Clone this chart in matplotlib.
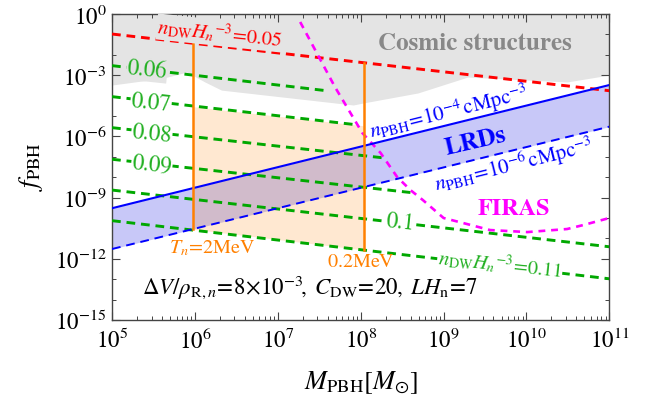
import numpy as np
import matplotlib
matplotlib.use("Agg")
import matplotlib.pyplot as plt
from matplotlib.ticker import NullFormatter, LogFormatterSciNotation

plt.rcParams['font.family'] = 'STIXGeneral'
plt.rcParams['mathtext.fontset'] = 'stix'

# n_DW H_n^-3 contours (log10 values), start at M = 1e5
dw_levels = ['0.05', '0.06', '0.07', '0.08', '0.09', '0.1', '0.11']
dw_logf_start = [-0.98, -2.53, -4.05, -5.57, -7.12, -8.63, -10.13]
dw_logM_end = [11.0, 7.61, 7.95, 8.27, 8.60, 11.0, 11.0]
dw_logf_end = [-3.76, -3.77, -5.43, -7.05, -8.75, -11.41, -12.98]

# LRD band: n_PBH = 1e-4 and 1e-6 cMpc^-3
lrd_M = [1e5, 1e11]
lrd_upper = [10**-9.52, 10**-3.48]
lrd_lower = [10**-11.52, 10**-5.52]

# T_n = 2 MeV and 0.2 MeV vertical lines and allowed region
tn_M = [10**5.978, 10**8.042]
tn_top = [10**-1.42, 10**-2.41]
tn_bottom = [10**-10.55, 10**-11.57]
tn_fill_top = [10**-4.54, 10**-5.48]

# FIRAS bound
firas_logM = [7.27, 7.69, 8.02, 8.24, 8.44, 8.60, 8.75, 9.00, 9.24, 9.56, 10.01, 10.49, 10.69, 11.0]
firas_logf = [-0.39, -3.58, -5.83, -6.81, -7.99, -8.63, -9.12, -10.0, -10.25, -10.59, -10.69, -10.54, -10.34, -10.0]

# cosmic structures exclusion (lower boundary)
cs_logM = [5.0, 5.31, 5.59, 5.86, 5.90, 6.12, 6.32, 7.91, 8.03, 8.69, 9.29, 10.49, 11.0]
cs_logf = [-3.48, -3.31, -3.17, -2.89, -2.84, -3.33, -3.73, -4.46, -4.36, -3.87, -3.09, -3.33, -2.99]

red = '#ff0000'
green = '#00a800'
green_txt = '#22b022'
blue = '#0000ff'
magenta = '#ff00ff'
orange = '#ff8000'
grey = '#e4e4e4'

fig = plt.figure(figsize=(6.57, 4.01), dpi=100)
ax = fig.add_axes([0.1705, 0.202, 0.757, 0.763])
ax.set_xscale('log')
ax.set_yscale('log')
ax.set_xlim(1e5, 1e11)
ax.set_ylim(1e-15, 1e0)

# cosmic structures
cs_M = 10.0**np.array(cs_logM)
ax.fill_between(cs_M, 10.0**np.array(cs_logf), 1.0, color=grey, lw=0, zorder=1)

# LRD band
ax.fill_between(lrd_M, lrd_lower, lrd_upper, color='#c8c8f8', lw=0, zorder=2)
ax.plot(lrd_M, lrd_upper, color=blue, lw=1.5, zorder=5)
ax.plot(lrd_M, lrd_lower, color=blue, lw=1.4, dashes=(4.5, 3), zorder=5)

# T_n region
ax.fill_between(tn_M, tn_bottom, tn_fill_top, color=orange, alpha=0.18, lw=0, zorder=3)
for m, lo, hi in zip(tn_M, tn_bottom, tn_top):
    ax.plot([m, m], [lo, hi], color=orange, lw=1.8, zorder=6)

# n_DW contours
for i in range(len(dw_levels)):
    c = red if i == 0 else green
    ax.plot([1e5, 10**dw_logM_end[i]], [10**dw_logf_start[i], 10**dw_logf_end[i]],
            color=c, lw=2.1, dashes=(3, 2), zorder=4)

# FIRAS
ax.plot(10.0**np.array(firas_logM), 10.0**np.array(firas_logf), color=magenta,
        lw=1.9, dashes=(2.6, 2.2), zorder=4)

# labels on contours
def lab(x, y, s, color, bg, rot, size=15):
    ax.text(10**x, 10**y, s, color=color, fontsize=size, rotation=rot,
            ha='center', va='center', rotation_mode='anchor', zorder=7,
            bbox=dict(facecolor=bg, edgecolor='none', pad=0.5) if bg else None)

lab(6.30, -0.93, r'$n_{\rm DW}H_n{}^{-3}\!=\!0.05$', red, grey, -6, 14.5)
lab(5.42, -2.75, '0.06', green_txt, grey, -6, 16.5)
lab(5.47, -4.36, '0.07', green_txt, 'white', -6, 16.5)
lab(5.48, -5.88, '0.08', green_txt, 'white', -6, 16.5)
lab(5.48, -7.40, '0.09', green_txt, 'white', -6, 16.5)
lab(8.48, -10.25, '0.1', green_txt, 'white', -6, 16.5)
lab(9.68, -12.25, r'$n_{\rm DW}H_n{}^{-3}\!=\!0.11$', green_txt, 'white', -6, 14.5)

ax.text(10**9.38, 10**-1.47, 'Cosmic structures', color='#888888', fontsize=18,
        fontweight='bold', ha='center', va='center', zorder=7)
ax.text(10**9.39, 10**-6.27, 'LRDs', color=blue, fontsize=18, fontweight='bold',
        ha='center', va='center', rotation=13, rotation_mode='anchor', zorder=7)
ax.text(10**9.07, 10**-4.8, r'$n_{\rm PBH}\!=\!10^{-4}\,{\rm cMpc}^{-3}$', color=blue,
        fontsize=15, ha='center', va='center', rotation=14, rotation_mode='anchor', zorder=7)
ax.text(10**9.85, 10**-7.4, r'$n_{\rm PBH}\!=\!10^{-6}\,{\rm cMpc}^{-3}$', color=blue,
        fontsize=15, ha='center', va='center', rotation=14, rotation_mode='anchor', zorder=7)
ax.text(10**9.85, 10**-9.56, 'FIRAS', color=magenta, fontsize=17.5, fontweight='bold',
        ha='center', va='center', zorder=7)
ax.text(10**6.21, 10**-11.47, r'$T_n\!=\!2{\rm MeV}$', color=orange, fontsize=14.5,
        ha='center', va='center', zorder=7)
ax.text(10**8.0, 10**-12.2, r'$0.2{\rm MeV}$', color=orange, fontsize=14.5,
        ha='center', va='center', zorder=7)
ax.text(10**7.39, 10**-13.38,
        r'$\Delta V/\rho_{\mathrm{R},n}\!=\!8\!\times\!10^{-3}\!,\;C_{\rm DW}\!=\!20,\;LH_{\rm n}\!=\!7$',
        color='black', fontsize=16.5, ha='center', va='center', zorder=7)

# axes styling
ax.set_yticks(10.0**np.arange(-15, 1, 3))
ax.set_yticks(10.0**np.arange(-15, 1), minor=True)
ax.yaxis.set_major_formatter(LogFormatterSciNotation())
ax.yaxis.set_minor_formatter(NullFormatter())
ax.tick_params(which='both', direction='in', top=True, right=True, color='#444444')
ax.tick_params(which='major', length=6, width=0.8, labelsize=16.5, pad=4)
ax.tick_params(axis='x', which='major', pad=6)
ax.tick_params(which='minor', length=3, width=0.7)
for s in ax.spines.values():
    s.set_color('#444444')
    s.set_linewidth(1.0)

ax.set_xlabel(r'$M_{\rm PBH}[M_{\odot}]$', fontsize=19)
ax.set_ylabel(r'$f_{\rm PBH}$', fontsize=19)
ax.xaxis.set_label_coords(0.5, -0.16)
ax.yaxis.set_label_coords(-0.135, 0.5)

fig.savefig('out.png', dpi=100)
